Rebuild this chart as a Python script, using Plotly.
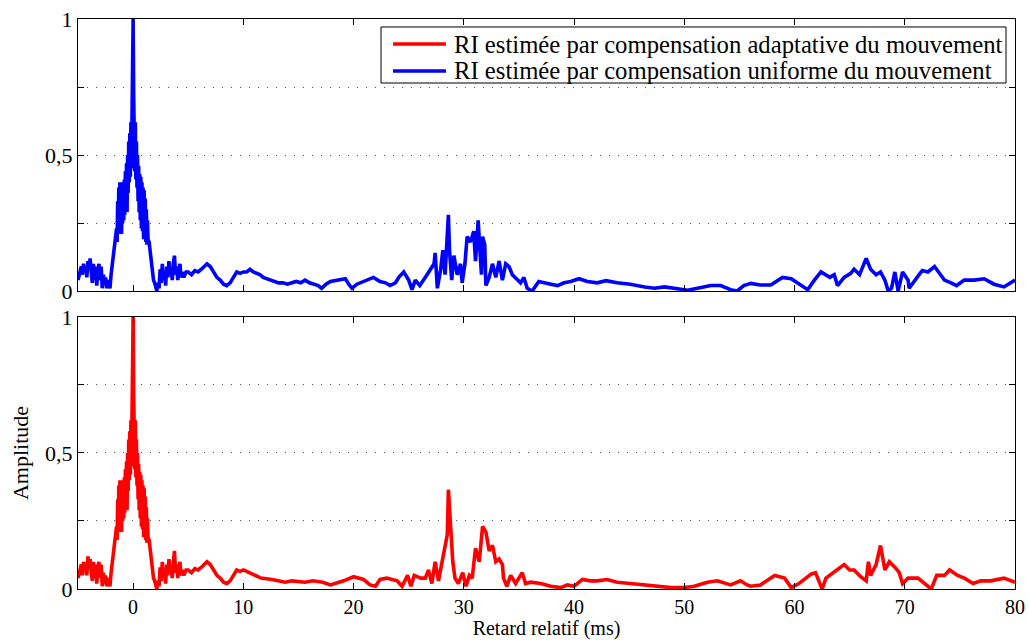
import plotly.graph_objects as go
from plotly.subplots import make_subplots

# ---- data ----
x_uniform = [
    -5.0, -4.85, -4.7, -4.6, -4.5, -4.4, -4.3, -4.2, -4.1, -4.0, -3.9, -3.8, -3.7, -3.6, -3.5, -3.4,
    -3.3, -3.2, -3.1, -3.0, -2.9, -2.8, -2.7, -2.6, -2.5, -2.4, -2.3, -2.2, -2.1,
    -2.0, -1.9, -1.8, -1.7, -1.6, -1.5, -1.45,
    -1.4, -1.35, -1.3, -1.25, -1.2, -1.15, -1.1, -1.05, -1.0, -0.95, -0.9, -0.85, -0.8, -0.75,
    -0.7, -0.65, -0.6, -0.55, -0.5, -0.45, -0.4, -0.35, -0.3, -0.25, -0.2, -0.15, -0.1, -0.05,
    0.0, 0.05, 0.1, 0.15, 0.2, 0.25, 0.3, 0.35, 0.4, 0.45, 0.5, 0.55, 0.6, 0.65, 0.7, 0.75,
    0.8, 0.85, 0.9, 0.95, 1.0, 1.05, 1.1, 1.15, 1.2, 1.25, 1.3, 1.35, 1.45, 1.55, 1.65, 1.75,
    1.85, 1.95, 2.05, 2.15, 2.25, 2.35,
    2.45, 2.55, 2.65, 2.75, 2.85, 2.95, 3.05, 3.15, 3.25, 3.35, 3.45, 3.55, 3.65, 3.75, 3.85,
    3.95, 4.05, 4.15, 4.25, 4.35, 4.45, 4.6, 4.8, 5.0, 5.3, 5.6, 5.9, 6.2, 6.5, 6.7, 7.0, 7.3,
    7.6, 7.9, 8.2, 8.5, 8.8, 9.1, 9.4, 9.7, 10.0, 10.3, 10.6, 10.9, 11.2, 11.5, 11.8, 12.1,
    12.4, 12.8, 13.2, 13.6, 14.0, 14.4, 14.8, 15.2, 15.6, 16.0, 16.4, 16.8, 17.1, 17.5, 17.9,
    18.5, 19.25, 19.56, 19.86, 20.3, 20.9, 21.4, 21.8, 22.4, 22.9, 23.3, 23.8, 24.1, 24.55,
    25.0, 25.3, 25.6, 26.0, 26.5, 26.97, 27.3, 27.4, 27.6, 27.9, 28.1, 28.3, 28.5, 28.6, 28.7,
    28.9, 29.1, 29.4, 29.7, 29.85, 30.1, 30.3, 30.6, 30.9, 31.06, 31.3, 31.4, 31.6, 31.7, 31.9,
    32.0, 32.3, 32.6, 32.9, 33.2, 33.5, 33.8, 34.1, 34.4, 34.85, 35.15, 35.45, 35.75, 36.2,
    36.8, 37.9, 38.5, 39.1, 39.7, 40.45, 41.2, 42.1, 42.9, 43.9, 45.1, 46.4, 47.3, 48.2, 49.1,
    50.3, 51.2, 52.4, 53.3, 54.2, 54.8, 55.4,
    56.04, 56.9, 57.85, 58.9, 59.7, 60.6, 61.2, 61.8, 62.4, 63.2, 63.6, 63.9, 64.5, 65.1, 65.4,
    65.9, 66.5, 66.9, 67.4, 67.8, 68.2, 68.5, 68.8, 69.1, 69.4, 69.8, 70.3, 70.4, 70.9, 71.3,
    71.6, 72.1, 72.7, 73.3, 73.6, 74.2, 74.7, 75.4, 76.3, 77.2, 78.1, 79.0, 79.6, 80.0,
]
y_uniform = [
    0.04, 0.06, 0.09, 0.06, 0.10, 0.07, 0.09, 0.05, 0.11, 0.08, 0.12, 0.07, 0.03, 0.10, 0.04, 0.09,
    0.02, 0.07, 0.10, 0.04, 0.09, 0.01, 0.06, 0.02, 0.05, 0.01, 0.04, 0.03, 0.01,
    0.06, 0.10, 0.13, 0.17, 0.19, 0.23, 0.18,
    0.33, 0.21, 0.38, 0.23, 0.40, 0.25, 0.36, 0.21, 0.38, 0.25, 0.40, 0.26, 0.41, 0.28,
    0.44, 0.30, 0.47, 0.29, 0.50, 0.36, 0.55, 0.40, 0.58, 0.42, 0.62, 0.45, 0.60, 0.70,
    1.00, 0.72, 0.60, 0.44, 0.62, 0.41, 0.55, 0.38, 0.50, 0.33, 0.46, 0.29, 0.43, 0.26, 0.42, 0.23,
    0.40, 0.22, 0.38, 0.19, 0.37, 0.20, 0.34, 0.18, 0.30, 0.17, 0.26, 0.19, 0.18, 0.14, 0.12, 0.07,
    0.04, 0.03, 0.01, 0.00, 0.03, 0.01,
    0.08, 0.03, 0.10, 0.04, 0.07, 0.02, 0.09, 0.05, 0.11, 0.06, 0.08, 0.04, 0.10, 0.13, 0.06,
    0.09, 0.04, 0.08, 0.10, 0.05, 0.07, 0.05, 0.07, 0.07, 0.06, 0.075, 0.07, 0.08, 0.09, 0.10, 0.09, 0.07,
    0.05, 0.04, 0.025, 0.02, 0.03, 0.05, 0.07, 0.065, 0.07, 0.07, 0.08, 0.07, 0.065, 0.06, 0.05, 0.045,
    0.04, 0.035, 0.03, 0.03, 0.025, 0.03, 0.035, 0.03, 0.04, 0.03, 0.025, 0.02, 0.01, 0.025, 0.035,
    0.04, 0.045, 0.025, 0.01, 0.025, 0.035, 0.04, 0.05, 0.035, 0.03, 0.02, 0.03, 0.05, 0.07,
    0.04, 0.005, 0.04, 0.02, 0.05, 0.08, 0.10, 0.14, 0.01, 0.08, 0.15, 0.06, 0.24, 0.28, 0.15,
    0.04, 0.13, 0.06, 0.10, 0.03, 0.10, 0.20, 0.18, 0.22, 0.11, 0.26, 0.19, 0.06, 0.20, 0.17,
    0.02, 0.05, 0.10, 0.05, 0.11, 0.04, 0.10, 0.09, 0.06, 0.04, 0.03, 0.05, 0.01, 0.00,
    0.035, 0.025, 0.02, 0.03, 0.035, 0.045, 0.035, 0.03, 0.038, 0.03, 0.025, 0.015, 0.01, 0.015, 0.01,
    0.003, 0.01, 0.02, 0.02, 0.005, 0.0, 0.02,
    0.028, 0.022, 0.022, 0.05, 0.045, 0.02, 0.005, 0.04, 0.07, 0.05, 0.06, 0.02, 0.05, 0.065, 0.08,
    0.06, 0.12, 0.08, 0.06, 0.07, 0.04, 0.0, 0.01, 0.07, 0.0, 0.07, 0.04, 0.01, 0.04, 0.06,
    0.075, 0.07, 0.09, 0.06, 0.04, 0.03, 0.02, 0.04, 0.04, 0.045, 0.025, 0.015, 0.03, 0.04,
]

x_adaptive = [
    -5.0, -4.85, -4.7, -4.6, -4.5, -4.4, -4.3, -4.2, -4.1, -4.0, -3.9, -3.8, -3.7, -3.6, -3.5, -3.4,
    -3.3, -3.2, -3.1, -3.0, -2.9, -2.8, -2.7, -2.6, -2.5, -2.4, -2.3, -2.2, -2.1,
    -2.0, -1.9, -1.8, -1.7, -1.6, -1.5, -1.45,
    -1.4, -1.35, -1.3, -1.25, -1.2, -1.15, -1.1, -1.05, -1.0, -0.95, -0.9, -0.85, -0.8, -0.75,
    -0.7, -0.65, -0.6, -0.55, -0.5, -0.45, -0.4, -0.35, -0.3, -0.25, -0.2, -0.15, -0.1, -0.05,
    0.0, 0.05, 0.1, 0.15, 0.2, 0.25, 0.3, 0.35, 0.4, 0.45, 0.5, 0.55, 0.6, 0.65, 0.7, 0.75,
    0.8, 0.85, 0.9, 0.95, 1.0, 1.05, 1.1, 1.15, 1.2, 1.25, 1.3, 1.35, 1.45, 1.55, 1.65, 1.75,
    1.85, 1.95, 2.05, 2.15, 2.25, 2.35,
    2.45, 2.55, 2.65, 2.75, 2.85, 2.95, 3.05, 3.15, 3.25, 3.35, 3.45, 3.55, 3.65, 3.75, 3.85,
    3.95, 4.05, 4.15, 4.25, 4.35, 4.45, 4.6, 4.8, 5.0, 5.3, 5.6, 5.9, 6.2, 6.5, 6.7, 7.0, 7.3,
    7.6, 7.9, 8.2, 8.5, 8.8, 9.1, 9.4, 9.7, 10.0, 10.3, 10.6, 11.1, 11.6, 12.6, 13.8, 14.4,
    15.6, 16.3, 17.2, 17.9,
    19.1, 20.0, 20.9, 21.5, 21.98, 22.4, 23.0, 23.95, 24.4, 24.9, 25.2, 25.5, 26.1, 26.5, 26.8,
    27.1, 27.4, 27.7, 28.0, 28.3, 28.5, 28.6, 28.85, 29.0, 29.2, 29.5, 29.9, 30.2, 30.5, 30.76,
    31.06, 31.4, 31.7, 32.0, 32.3, 32.6, 32.9, 33.2, 33.5, 33.6, 33.9, 34.25, 34.7, 35.0, 35.3,
    35.6, 36.06, 36.96, 37.9, 38.8, 39.4, 40.0, 40.75, 41.5, 42.1, 43.0, 43.9, 45.1, 46.4, 47.6,
    48.8, 50.0, 50.9, 52.1, 53.0, 54.2, 55.1, 55.7,
    56.04, 56.9, 58.2, 59.1, 59.7, 60.4, 61.5, 61.9, 62.5, 62.85, 63.5, 64.1, 64.5, 65.0, 65.4,
    66.0, 66.5, 66.7, 66.9, 67.4, 67.8, 68.2, 68.6, 69.1, 69.5, 69.8, 70.3, 71.2, 71.5, 71.9,
    72.4, 72.9, 73.6, 74.07, 74.8, 75.4, 76.2, 76.9, 77.8, 79.0, 79.6, 80.0,
]
y_adaptive = [
    0.04, 0.06, 0.09, 0.05, 0.10, 0.07, 0.09, 0.05, 0.12, 0.08, 0.11, 0.06, 0.03, 0.10, 0.04, 0.09,
    0.02, 0.08, 0.10, 0.04, 0.09, 0.01, 0.06, 0.02, 0.05, 0.01, 0.04, 0.03, 0.01,
    0.06, 0.10, 0.13, 0.17, 0.19, 0.23, 0.18,
    0.33, 0.21, 0.38, 0.23, 0.40, 0.25, 0.36, 0.21, 0.38, 0.25, 0.40, 0.26, 0.41, 0.28,
    0.44, 0.30, 0.47, 0.29, 0.50, 0.36, 0.55, 0.40, 0.58, 0.42, 0.62, 0.45, 0.60, 0.70,
    1.00, 0.72, 0.60, 0.44, 0.62, 0.41, 0.55, 0.38, 0.50, 0.33, 0.46, 0.29, 0.43, 0.26, 0.42, 0.23,
    0.40, 0.22, 0.38, 0.19, 0.37, 0.20, 0.34, 0.18, 0.30, 0.17, 0.26, 0.19, 0.18, 0.14, 0.12, 0.07,
    0.04, 0.03, 0.01, 0.00, 0.03, 0.01,
    0.08, 0.03, 0.10, 0.04, 0.07, 0.02, 0.09, 0.05, 0.11, 0.06, 0.08, 0.04, 0.10, 0.14, 0.06,
    0.09, 0.04, 0.08, 0.10, 0.05, 0.07, 0.05, 0.07, 0.07, 0.06, 0.075, 0.07, 0.08, 0.09, 0.10, 0.09, 0.07,
    0.05, 0.04, 0.025, 0.02, 0.03, 0.05, 0.07, 0.065, 0.07, 0.065, 0.06, 0.05, 0.04, 0.035, 0.025, 0.03,
    0.025, 0.03, 0.025, 0.015,
    0.03, 0.045, 0.035, 0.015, 0.01, 0.035, 0.04, 0.03, 0.01, 0.05, 0.01, 0.05, 0.04, 0.04, 0.07,
    0.02, 0.10, 0.03, 0.09, 0.15, 0.20, 0.365, 0.20, 0.10, 0.04, 0.02, 0.06, 0.01, 0.05, 0.04,
    0.15, 0.10, 0.23, 0.21, 0.14, 0.16, 0.10, 0.11, 0.09, 0.04, 0.01, 0.05, 0.02, 0.04, 0.06,
    0.02, 0.025, 0.02, 0.01, 0.005, 0.015, 0.01, 0.035, 0.03, 0.03, 0.035, 0.025, 0.02, 0.015, 0.01,
    0.005, 0.005, 0.01, 0.025, 0.03, 0.015, 0.03, 0.015,
    0.01, 0.015, 0.05, 0.04, 0.005, 0.02, 0.055, 0.06, 0.0, 0.04, 0.06, 0.08, 0.09, 0.07, 0.07,
    0.045, 0.03, 0.10, 0.05, 0.09, 0.16, 0.07, 0.10, 0.08, 0.06, 0.02, 0.04, 0.04, 0.03, 0.02,
    0.0, 0.05, 0.05, 0.07, 0.05, 0.04, 0.02, 0.03, 0.03, 0.04, 0.03, 0.025,
]

y_tick_vals = [0, 0.25, 0.5, 0.75, 1]
y_tick_text = ["0", "", "0,5", "", "1"]
x_tick_vals = [0, 10, 20, 30, 40, 50, 60, 70, 80]

label_adaptive = "RI estimée par compensation adaptative du mouvement"
label_uniform = "RI estimée par compensation uniforme du mouvement"

FONT = "Liberation Serif"
RED = "#ff0000"
BLUE = "#0000ff"

fig = make_subplots(rows=2, cols=1, shared_xaxes=False, vertical_spacing=0.0456)

fig.add_trace(go.Scatter(x=x_adaptive, y=y_adaptive, mode="lines", name=label_adaptive,
                         line=dict(color=RED, width=3.6), showlegend=False), row=2, col=1)
fig.add_trace(go.Scatter(x=x_uniform, y=y_uniform, mode="lines", name=label_uniform,
                         line=dict(color=BLUE, width=3.6), showlegend=False), row=1, col=1)

common_x = dict(range=[-5, 80], tickvals=x_tick_vals, ticks="inside", ticklen=6,
                tickcolor="#000", showline=True, linecolor="#000", linewidth=1, mirror="ticks",
                showgrid=False, zeroline=False, automargin=False,
                tickfont=dict(family=FONT, size=20, color="#000"))
common_y = dict(range=[0, 1], tickvals=y_tick_vals, ticktext=y_tick_text, ticks="inside",
                ticklen=6, tickcolor="#000", showline=True, linecolor="#000", linewidth=1,
                mirror="ticks", showgrid=True, gridcolor="#555", griddash="1px,8px", gridwidth=1,
                zeroline=False, automargin=False,
                tickfont=dict(family=FONT, size=22, color="#000"))

fig.update_xaxes(**common_x)
fig.update_xaxes(showticklabels=False, row=1, col=1)
fig.update_xaxes(title=dict(text="Retard relatif (ms)", font=dict(family=FONT, size=20, color="#000"),
                            standoff=5), row=2, col=1)
fig.update_yaxes(**common_y)
fig.update_yaxes(title=dict(text="Amplitude", font=dict(family=FONT, size=22, color="#000"),
                            standoff=10), row=2, col=1)

# legend box drawn in paper coordinates (top panel, upper right)
fig.add_shape(type="rect", xref="paper", yref="paper", x0=0.3234, x1=0.9904, y0=0.8877, y1=0.986,
              line=dict(color="#000", width=1), fillcolor="white", layer="above")
legend_rows = [(label_adaptive, RED, 0.9561), (label_uniform, BLUE, 0.9088)]
for text, color, yy in legend_rows:
    fig.add_shape(type="line", xref="paper", yref="paper", x0=0.3362, x1=0.3927, y0=yy, y1=yy,
                  line=dict(color=color, width=3.6), layer="above")
    fig.add_annotation(xref="paper", yref="paper", x=0.3991, y=yy, xanchor="left", yanchor="middle",
                       text=text, showarrow=False,
                       font=dict(family=FONT, size=24.7, color="#000"))

fig.update_layout(
    width=1028, height=640,
    margin=dict(l=78, r=13, t=19, b=51, autoexpand=False),
    paper_bgcolor="white", plot_bgcolor="white",
    font=dict(family=FONT, color="#000"),
    showlegend=False,
)

fig.write_html("out.html", post_script="document.body.style.margin='0';",
               config={"displayModeBar": False})
